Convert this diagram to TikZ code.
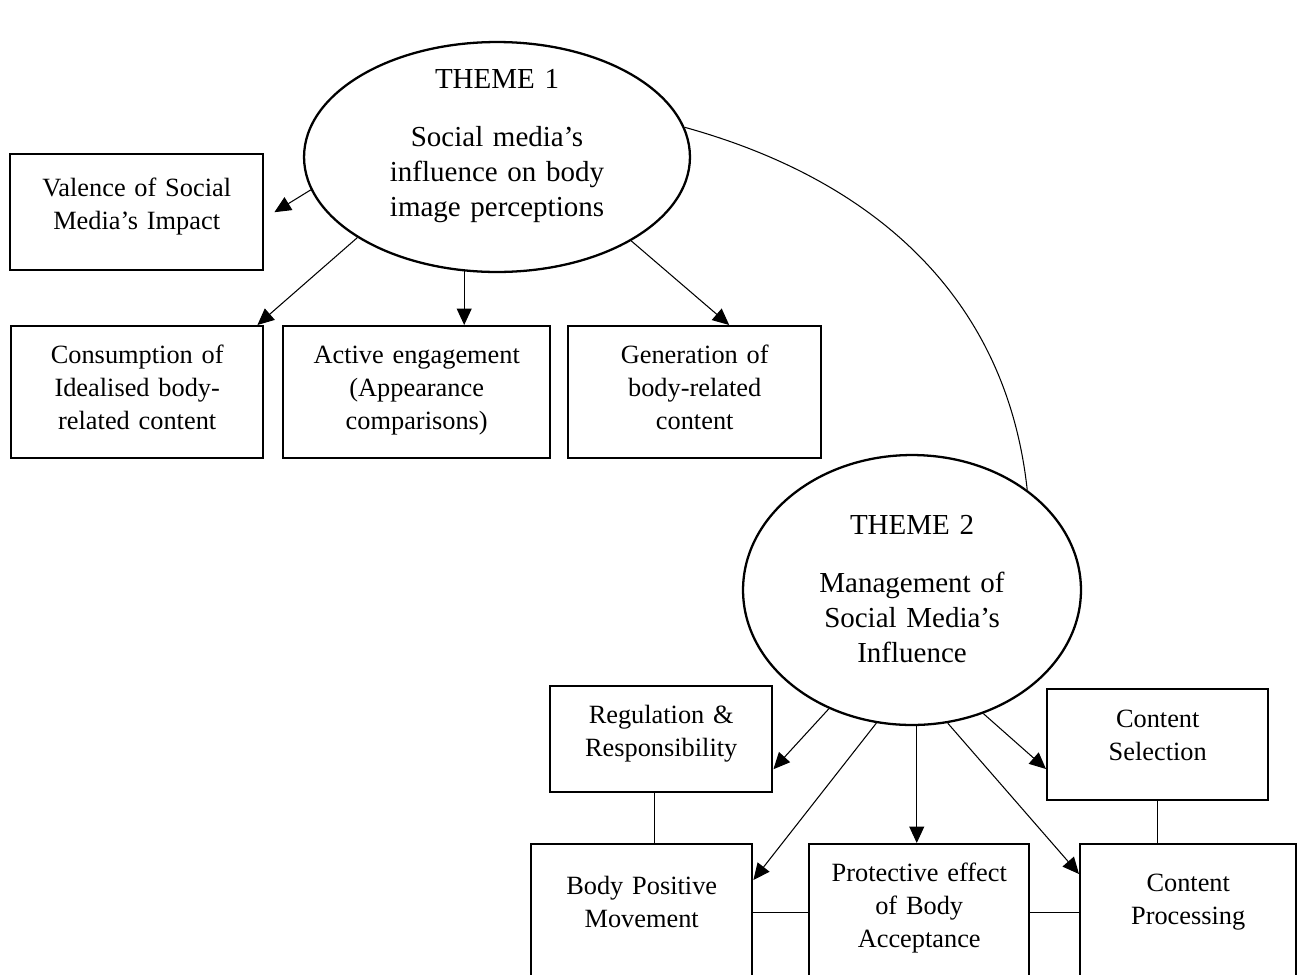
\documentclass[tikz,border=0pt]{standalone}
\usepackage{fontspec}
\setmainfont{Liberation Serif}
\usepackage{tikz}
\usetikzlibrary{arrows.meta,positioning,calc,shapes.geometric}

\tikzset{
  theme/.style={draw,ellipse,line width=1.3pt,inner sep=0pt,align=center,text height=0pt,
    font=\fontsize{16.5}{20.2}\selectfont},
  subtheme/.style={draw,line width=1.4pt,inner sep=0pt,align=center,anchor=north west,text width=#1},
  link/.style={line width=0.6pt},
  arrow/.style={link,-{Triangle[length=0.33cm,width=0.3cm]}}
}

\begin{document}
\begin{tikzpicture}[x=0.02cm,y=-0.02cm,font=\fontsize{15}{18.8}\selectfont]
  \useasboundingbox (0,0) rectangle (1297,974);
  \clip (0,0) rectangle (1297,974);
  \node[theme,minimum width=7.72cm,minimum height=4.6cm,text width=4.3cm,text depth=2.76cm] (t1) at (497,157)
    {THEME 1\\[0.45cm]Social media's\\influence on body\\image perceptions};
  \node[theme,minimum width=6.76cm,minimum height=5.4cm,text width=4cm,text depth=2.24cm] (t2) at (912,590)
    {THEME 2\\[0.45cm]Management of\\Social Media's\\Influence};

  \node[subtheme=5.06cm,text height=0.84cm,text depth=1.48cm] (val) at (9,153) {Valence of Social\\Media's Impact};
  \node[subtheme=5.04cm,text height=0.74cm,text depth=1.9cm] (con) at (10,325) {Consumption of\\Idealised body-\\related content};
  \node[subtheme=5.34cm,text height=0.74cm,text depth=1.9cm] (act) at (282,325) {Active engagement\\(Appearance\\comparisons)};
  \node[subtheme=5.06cm,text height=0.74cm,text depth=1.9cm] (gen) at (567,325) {Generation of\\body-related\\content};

  \node[subtheme=4.44cm,text height=0.74cm,text depth=1.38cm] (reg) at (549,685) {Regulation \&\\Responsibility};
  \node[subtheme=4.42cm,text height=0.76cm,text depth=1.46cm] (sel) at (1046,688) {Content\\Selection};
  \node[subtheme=4.42cm,text height=1.0cm,text depth=1.74cm] (bpm) at (530,843) {Body Positive\\Movement};
  \node[subtheme=4.4cm,text height=0.74cm,text depth=2.0cm] (pro) at (808,843) {Protective effect\\of Body\\Acceptance};
  \node[subtheme=4.32cm,text height=0.94cm,text depth=1.8cm] (prc) at (1079,843) {Content\\Processing};

  \draw[arrow] (t1.190) -- ($(val.east)+(10,0)$);
  \draw[arrow] (t1.210) -- ($(con.north east)+(-7,0)$);
  \draw[arrow] (t1.254) -- (t1.254 |- act.north);
  \draw[arrow] (t1.328) -- ($(gen.north)+(34.5,0)$);
  \draw[link] (t1.9) .. controls +(188,52) and +(-21,-194) .. (t2.41);

  \draw[arrow] (t2.235) -- ($(reg.east)+(0,30)$);
  \draw[arrow] (t2.255) -- ($(bpm.north east)+(0,37)$);
  \draw[arrow] (t2.272) -- (t2.272 |- pro.north);
  \draw[arrow] (t2.285) -- ($(prc.north west)+(0,31)$);
  \draw[arrow] (t2.300) -- ($(sel.north west)+(0,81)$);

  \draw[link] ($(reg.south)+(-7,0)$) coordinate (rs) -- (rs |- bpm.north);
  \draw[link] (sel.south) -- (sel.south |- prc.north);
  \draw[link] (bpm.east) -- (pro.west);
  \draw[link] (pro.east) -- (prc.west);
\end{tikzpicture}
\end{document}
